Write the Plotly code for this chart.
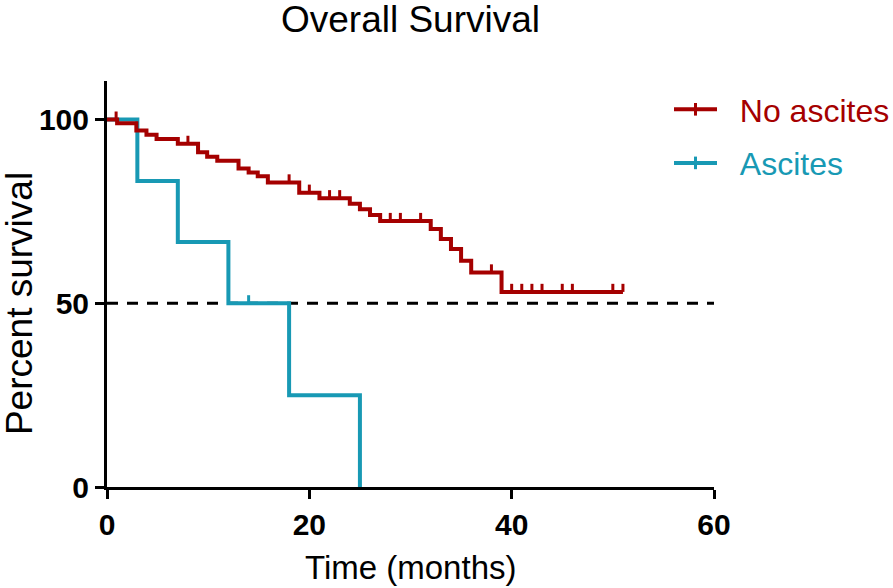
import bisect
import plotly.graph_objects as go

# ---------------- data ----------------
# No ascites: Kaplan-Meier step curve (time in months, % survival)
no_asc_time = [0, 1.0, 2.9, 3.9, 4.9, 7.0, 9.0, 9.9, 10.9, 13.0, 14.0, 14.9, 15.9,
               19.0, 21.0, 24.0, 25.0, 26.0, 27.0, 32.0, 33.0, 34.0, 35.0, 36.0, 39.0, 51.0]
no_asc_surv = [100, 99.0, 97.0, 95.9, 94.7, 93.4, 91.1, 89.9, 88.8, 86.7, 85.6, 84.6, 82.9,
               80.1, 78.6, 77.1, 75.6, 74.0, 72.4, 70.2, 67.5, 64.8, 61.6, 58.4, 53.1, 53.1]
no_asc_censored = [0.9, 8.0, 18.0, 20.0, 22.0, 23.0, 28.0, 29.0, 31.0, 38.0,
                   40.0, 41.0, 42.0, 43.0, 45.0, 46.0, 50.0, 51.0]

# Ascites
asc_time = [0, 3.0, 7.0, 12.0, 18.0, 25.0]
asc_surv = [100, 83.3, 66.7, 50.0, 25.0, 0.0]
asc_censored = [14.0]

# median reference line
median_x = [0, 60]
median_y = [50, 50]

x_ticks = [0, 20, 40, 60]
y_ticks = [0, 50, 100]

RED = "#A50000"
TEAL = "#1899B4"
FONT = "Liberation Sans, Arial, sans-serif"
LW = 4
TICK_H = 2.2  # height of censor ticks, in % units
W, H = 893, 588


def level_at(times, surv, t):
    i = bisect.bisect_right(times, t) - 1
    return surv[max(i, 0)]


def censor_segments(times, surv, cens):
    xs, ys = [], []
    for t in cens:
        s = level_at(times, surv, t)
        xs += [t, t, None]
        ys += [s, s + TICK_H, None]
    return xs, ys


fig = go.Figure()

# dashed median line
fig.add_trace(go.Scatter(x=median_x, y=median_y, mode="lines",
                         line=dict(color="black", width=3, dash="11px,9px"),
                         showlegend=False, hoverinfo="skip"))

# Ascites curve + censor ticks
fig.add_trace(go.Scatter(x=asc_time, y=asc_surv, mode="lines", line_shape="hv",
                         line=dict(color=TEAL, width=LW), showlegend=False))
cx, cy = censor_segments(asc_time, asc_surv, asc_censored)
fig.add_trace(go.Scatter(x=cx, y=cy, mode="lines", line=dict(color=TEAL, width=LW - 1),
                         showlegend=False, hoverinfo="skip"))

# No ascites curve + censor ticks
fig.add_trace(go.Scatter(x=no_asc_time, y=no_asc_surv, mode="lines", line_shape="hv",
                         line=dict(color=RED, width=LW), showlegend=False))
cx, cy = censor_segments(no_asc_time, no_asc_surv, no_asc_censored)
fig.add_trace(go.Scatter(x=cx, y=cy, mode="lines", line=dict(color=RED, width=LW - 1),
                         showlegend=False, hoverinfo="skip"))

# legend entries
NB = "\u00a0\u00a0"
fig.add_trace(go.Scatter(x=[None], y=[None], mode="lines+markers",
                         line=dict(color=RED, width=LW), legendgroup="a",
                         marker=dict(symbol="line-ns", size=9,
                                     line=dict(color=RED, width=3)),
                         name=f"<span style='color:{RED}'>{NB}No ascites</span>"))
fig.add_trace(go.Scatter(x=[None], y=[None], mode="lines+markers",
                         line=dict(color=TEAL, width=LW), legendgroup="b",
                         marker=dict(symbol="line-ns", size=9,
                                     line=dict(color=TEAL, width=3)),
                         name=f"<span style='color:{TEAL}'>{NB}Ascites</span>"))

axis_common = dict(showline=True, linecolor="black", linewidth=3,
                   ticks="outside", ticklen=9, tickwidth=3, tickcolor="black",
                   showgrid=False, zeroline=False, automargin=False,
                   tickfont=dict(family=FONT, size=30, color="black", weight="bold"))

fig.update_layout(
    width=W, height=H,
    margin=dict(l=107, r=179, t=81, b=101, autoexpand=False),
    paper_bgcolor="white", plot_bgcolor="white",
    font=dict(family=FONT, color="black"),
    title=dict(text="Overall Survival", x=0.5, xref="paper", y=1 - 19 / H,
               yref="container", yanchor="middle", xanchor="center",
               font=dict(family=FONT, size=37, color="black"),
               automargin=False),
    xaxis=dict(range=[0, 60], tickvals=x_ticks, ticktext=[str(v) for v in x_ticks],
               **axis_common),
    yaxis=dict(range=[0, 110.5], tickvals=y_ticks, ticktext=[str(v) for v in y_ticks],
               **axis_common),
    legend=dict(x=669 / W, y=1 - 82 / H, xref="container", yref="container",
                xanchor="left", yanchor="top",
                font=dict(family=FONT, size=32), tracegroupgap=9, itemwidth=43,
                bgcolor="rgba(0,0,0,0)", traceorder="grouped"),
    annotations=[
        dict(text="Time (months)", xref="paper", yref="paper", x=0.5, y=-0.1995,
             xanchor="center", yanchor="middle", showarrow=False,
             font=dict(family=FONT, size=33, color="black")),
        dict(text="Percent survival", xref="paper", yref="paper", x=-0.1450, y=0.453,
             xanchor="center", yanchor="middle", showarrow=False, textangle=-90,
             font=dict(family=FONT, size=37, color="black")),
    ],
)

fig.write_html("out.html", config={"displayModeBar": False},
               post_script="document.body.style.margin='0';document.body.style.overflow='hidden';")
